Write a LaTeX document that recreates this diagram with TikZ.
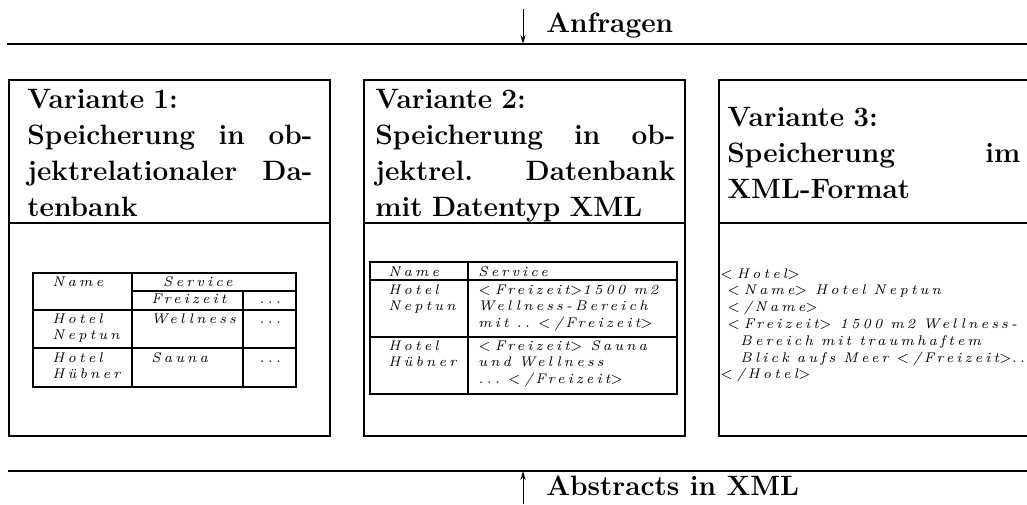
\documentclass[tikz,border=0pt]{standalone}
\usepackage{fontspec}
\usetikzlibrary{arrows.meta}
% small, widely spaced italic for table cells and XML listings
\newfontfamily\cellit{lmroman7-italic.otf}[LetterSpace=22]
\newcommand\cellfont{\fontsize{7}{8.4}\selectfont\cellit}
\newcommand\headfont{\fontsize{14}{18}\selectfont\bfseries}
\newcommand\cellgap{\hspace{4pt}}
\newcommand\xlt{$<$\hspace{2pt}}
\newcommand\xgt{$>$}
% a heading line spread to the full column width
\newcommand\fullline[2]{\leavevmode\hbox to #1{#2}}
\tikzset{
  rule/.style={line width=1pt},
  frame/.style={line width=1pt},
  gridthin/.style={line width=0.6pt},
  gridthick/.style={line width=1pt},
  flow/.style={line width=0.5pt, -{Stealth[length=4.5pt,width=2.6pt]}},
  heading/.style={anchor=base west, inner sep=0pt, font=\headfont},
  title/.style={heading, text width=160pt, align=left},
  cell/.style={anchor=base west, inner sep=0pt, font=\cellfont},
  cellm/.style={cell, text width=200pt, align=left},
}
\begin{document}
\begin{tikzpicture}[x=0.5pt,y=-0.5pt]
\useasboundingbox (0,0) rectangle (1027,504);

% incoming queries
\coordinate (topL) at (7,44);
\coordinate (topR) at (1027,44);
\draw[rule] (topL) -- (topR);
\coordinate (qsrc) at (523,9);
\coordinate (qdst) at (523,44);
\draw[flow] (qsrc) -- (qdst);
\node[heading] (anfragen) at (546,32) {Anfragen};

% variant frames
\draw[frame] (9,80) rectangle (330,436);
\draw[frame] (9,223) -- (330,223);
\draw[frame] (364,80) rectangle (685,436);
\draw[frame] (364,223) -- (685,223);
\draw[frame] (1035,80) -- (719,80) -- (719,436) -- (1035,436);
\draw[frame] (719,223) -- (1035,223);

% headings
\node[title] (v1title) at (27,108)
  {Variante 1:\\
   \fullline{142.5pt}{Speicherung\hfill in\hfill ob-}\\
   \fullline{142.5pt}{jektrelationaler\hfill Da-}\\
   tenbank};
\node[title] (v2title) at (375,108)
  {Variante 2:\\
   \fullline{150pt}{Speicherung\hfill in\hfill ob-}\\
   \fullline{150pt}{jektrel.\hfill Datenbank}\\
   mit Datentyp XML};
\node[title] (v3title) at (727,126)
  {Variante 3:\\
   \fullline{146.5pt}{Speicherung\hfill im}\\
   XML-Format};

% variant 1: relational table
\draw[gridthin] (33,273) rectangle (296,387);
\draw[gridthin] (132,273) -- (132,387);
\draw[gridthin] (243,291) -- (243,387);
\draw[gridthin] (132,291) -- (296,291);
\draw[gridthin] (33,310) -- (296,310);
\draw[gridthin] (33,348) -- (296,348);
\node[cell] (t1name) at (52,286) {Name};
\node[cell, anchor=base] (t1serv) at (198,286) {Service};
\node[cell] (t1frei) at (151,303) {Freizeit};
\node[cell] (t1dotsa) at (259,303) {...};
\node[cellm] (t1nep) at (52,323) {Hotel\\Neptun};
\node[cell] (t1well) at (151,323) {Wellness};
\node[cell] (t1dotsb) at (259,323) {...};
\node[cellm] (t1hub) at (52,362) {Hotel\\Hübner};
\node[cell] (t1sauna) at (151,362) {Sauna};
\node[cell] (t1dotsc) at (259,362) {...};

% variant 2: table with XML column
\draw[gridthick] (370,262) rectangle (677,394);
\draw[gridthick] (468,262) -- (468,394);
\draw[gridthick] (370,280) -- (677,280);
\draw[gridthick] (370,337) -- (677,337);
\node[cell] (t2name) at (388,276) {Name};
\node[cell] (t2serv) at (478,276) {Service};
\node[cellm] (t2nep) at (388,294) {Hotel\\Neptun};
\node[cellm] (t2xa) at (478,294)
  {\xlt Freizeit\xgt1500\cellgap m2\\Wellness-Bereich\\mit\cellgap..\cellgap\xlt/\,Freizeit\xgt};
\node[cellm] (t2hub) at (388,350) {Hotel\\Hübner};
\node[cellm] (t2xb) at (478,350)
  {\xlt Freizeit\xgt\cellgap Sauna\\und\cellgap Wellness\\...\cellgap\xlt/\,Freizeit\xgt};

% variant 3: XML document
\node[cellm, text width=300pt] (xmldoc) at (720,278)
  {\xlt Hotel\xgt\\
   \hspace*{3.5pt}\xlt Name\xgt\cellgap Hotel\cellgap Neptun\\
   \hspace*{3.5pt}\xlt/\,Name\xgt\\
   \hspace*{3.5pt}\xlt Freizeit\xgt\cellgap 1500\cellgap m2\cellgap Wellness-\\
   \hspace*{10pt}Bereich\cellgap mit\cellgap traumhaftem\\
   \hspace*{10pt}Blick\cellgap aufs\cellgap Meer\cellgap\xlt/\,Freizeit\xgt..\\
   \xlt/\,Hotel\xgt};

% outgoing abstracts
\coordinate (botL) at (8,471);
\coordinate (botR) at (1027,471);
\draw[rule] (botL) -- (botR);
\coordinate (asrc) at (523,504);
\coordinate (adst) at (523,471);
\draw[flow] (asrc) -- (adst);
\node[heading] (abstracts) at (546,495) {Abstracts in XML};
\end{tikzpicture}
\end{document}
